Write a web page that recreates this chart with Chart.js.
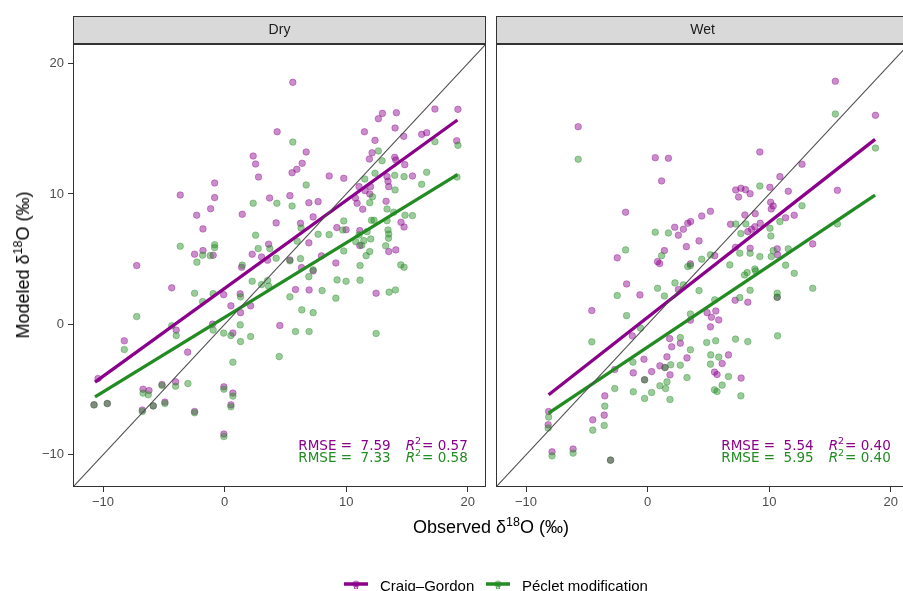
<!DOCTYPE html>
<html>
<head>
<meta charset="utf-8">
<script src="https://cdn.jsdelivr.net/npm/chart.js@4.4.1/dist/chart.umd.min.js"></script>
<style>
  html, body { margin: 0; padding: 0; background: #fff; }
  #wrap { position: relative; width: 903px; height: 591px; overflow: hidden; font-family: "Liberation Sans", Arial, sans-serif; }
  #dryBox { position: absolute; left: 0; top: 0; }
  #wetBox { position: absolute; left: 489px; top: 0; }
  .title { position: absolute; white-space: nowrap; font-size: 18px; color: #000; line-height: 18px; }
  .title sup { font-size: 12.5px; vertical-align: baseline; position: relative; top: -0.6em; }
  #ytitle { left: 24px; top: 265px; transform: translate(-50%, -50%) rotate(-90deg); }
  #xtitle { left: 491px; top: 528px; transform: translate(-50%, -50%); }
  .key { position: absolute; top: 576px; }
  .keytext { position: absolute; top: 578px; font-size: 15px; line-height: 15px; color: #000; white-space: nowrap; }
</style>
</head>
<body>
<div id="wrap">
  <div id="dryBox"><canvas id="dry" width="489" height="591"></canvas></div>
  <div id="wetBox"><canvas id="wet" width="421" height="591"></canvas></div>
  <div class="title" id="ytitle">Modeled δ<sup>18</sup>O (‰)</div>
  <div class="title" id="xtitle">Observed δ<sup>18</sup>O (‰)</div>

  <svg class="key" style="left:344px" width="24" height="16">
    <line x1="0" y1="8" x2="24" y2="8" stroke="#8B008B" stroke-width="3.5"/>
    <circle cx="12" cy="8" r="3.6" fill="rgba(139,0,139,0.5)"/>
    <text x="12" y="13" font-size="8" text-anchor="middle" fill="#8B008B" font-family="Liberation Sans">a</text>
  </svg>
  <div class="keytext" style="left:380px">Craig–Gordon</div>
  <svg class="key" style="left:486px" width="24" height="16">
    <line x1="0" y1="8" x2="24" y2="8" stroke="#228B22" stroke-width="3.5"/>
    <circle cx="12" cy="8" r="3.6" fill="rgba(34,139,34,0.5)"/>
    <text x="12" y="13" font-size="8" text-anchor="middle" fill="#228B22" font-family="Liberation Sans">a</text>
  </svg>
  <div class="keytext" style="left:522px">Péclet modification</div>
</div>

<script>
// ---- data: [observed, modeled] ----
const dryCraigGordon = [
  [2.35,12.91],[2.55,12.30],[2.79,11.30],[-0.82,10.84],[-3.65,9.92],[-0.82,9.72],[-1.15,8.87],[-2.30,8.37],
  [1.45,8.44],[3.70,9.69],[4.24,7.78],[-1.78,7.32],[-1.78,5.66],[-2.47,5.38],[-0.94,5.30],[2.27,5.38],
  [3.62,6.15],[3.04,5.17],[3.53,4.92],[-7.23,4.51],[1.40,4.38],[-4.35,2.80],[-0.08,2.28],[1.28,2.34],
  [0.52,1.42],[2.14,1.42],[1.31,0.90],[4.54,-0.09],[-0.99,0.02],[-3.98,-0.44],[0.68,-0.67],[-8.25,-1.26],
  [-3.04,-2.13],[-10.41,-4.15],[-6.71,-4.97],[-6.22,-5.07],[-5.15,-4.61],[-4.03,-4.41],[-0.06,-4.79],[0.68,-5.27],
  [-6.77,-6.57],[-4.91,-5.96],[-2.47,-6.68],[0.52,-6.17],[-0.06,-8.41],[-5.87,-6.25],[-10.74,-6.17],[-9.65,-6.07],
  [5.61,18.56],[4.32,14.77],[6.71,13.22],[6.38,12.35],[5.94,11.89],[5.55,11.63],[8.60,11.38],[9.80,11.20],
  [5.37,9.87],[6.93,9.33],[7.69,9.41],[7.28,8.24],[6.24,7.75],[6.93,6.25],[9.23,7.42],[9.99,7.26],
  [7.97,5.25],[11.50,14.77],[12.37,14.11],[12.65,15.77],[12.98,16.18],[14.13,16.23],[14.02,15.06],[14.73,14.42],
  [16.21,14.57],[16.62,14.70],[17.30,16.51],[19.19,16.49],[19.09,14.08],[12.13,13.16],[11.91,12.68],[13.99,12.81],
  [14.08,12.61],[14.82,12.25],[15.45,11.38],[13.36,11.33],[13.44,10.97],[13.50,10.56],[11.06,10.56],[12.00,10.56],
  [11.55,10.25],[11.94,10.00],[10.76,9.69],[10.90,9.29],[13.28,9.44],[11.36,8.83],[14.51,7.83],[14.76,7.47],
  [11.12,7.19],[14.08,5.71],[13.50,5.58],[6.33,4.35],[7.28,4.10],[9.15,4.71],[5.83,2.67],[6.95,2.64],
  [12.46,2.39],[11.12,6.04],[5.37,4.94]
];
const dryPeclet = [
  [2.35,9.29],[4.30,9.29],[2.55,6.84],[-3.65,5.99],[-0.82,6.11],[-0.82,5.89],[-1.81,5.30],[-1.18,5.27],
  [-2.28,4.77],[2.76,5.81],[3.72,5.81],[4.24,5.07],[1.45,4.54],[2.27,3.31],[3.04,3.05],[3.53,3.36],
  [3.62,2.93],[-2.47,2.39],[-0.94,2.36],[-1.81,1.75],[1.31,2.11],[-7.23,0.60],[1.28,-0.04],[-0.94,-0.44],
  [-0.08,-0.67],[0.52,-0.86],[-4.35,-0.11],[-3.98,-0.86],[1.31,-1.32],[2.14,-0.93],[4.49,-2.47],[-8.25,-1.93],
  [0.68,-2.90],[-3.02,-4.54],[-4.03,-4.74],[-5.15,-4.69],[-6.71,-5.27],[-6.28,-5.40],[-0.06,-4.97],[0.68,-5.50],
  [-10.74,-6.17],[-9.65,-6.07],[-6.77,-6.68],[-5.87,-6.25],[-4.91,-6.07],[-2.47,-6.78],[0.52,-6.32],[-0.06,-8.60],
  [5.61,13.98],[6.71,10.69],[5.55,9.08],[12.65,13.30],[12.95,12.55],[12.37,11.59],[11.53,11.15],[13.99,11.43],
  [14.76,11.33],[16.62,11.66],[16.21,10.74],[17.30,14.01],[19.19,13.73],[19.11,11.30],[14.02,10.31],[12.16,9.79],
  [11.94,9.33],[13.36,8.85],[13.91,8.60],[14.84,8.37],[15.45,8.34],[12.08,7.98],[12.29,7.98],[13.36,7.95],
  [13.44,7.24],[13.50,6.93],[13.48,6.61],[9.80,7.93],[6.29,7.39],[7.69,6.91],[8.60,6.88],[9.72,7.24],
  [11.06,6.86],[11.72,7.11],[10.79,6.34],[11.45,6.42],[12.02,6.55],[11.28,6.07],[13.25,6.02],[5.97,6.38],
  [6.24,5.04],[9.80,5.63],[11.64,5.27],[11.94,5.58],[14.49,4.56],[14.76,4.38],[11.14,4.51],[9.25,3.41],
  [9.99,3.31],[11.14,3.39],[8.02,2.59],[9.15,2.01],[6.93,3.66],[5.37,4.87],[7.28,4.18],[5.37,2.11],
  [6.35,1.11],[7.28,0.90],[5.83,-0.55],[6.95,-0.55],[12.46,-0.70],[13.53,2.47],[14.05,2.64]
];
const wetCraigGordon = [
  [-5.71,15.16],[0.63,12.78],[1.71,12.74],[1.15,11.00],[-1.81,8.60],[-2.50,5.10],[-1.73,3.10],[-0.63,2.26],
  [-4.59,1.06],[2.23,7.45],[2.94,7.29],[3.30,7.75],[3.54,7.88],[2.53,6.84],[3.19,5.96],[1.38,5.66],
  [0.82,4.81],[0.99,4.66],[3.52,4.64],[-1.26,-0.88],[3.52,0.32],[1.81,-1.09],[1.98,-1.72],[2.69,-1.44],
  [1.59,-2.49],[3.24,-2.57],[-0.30,-2.67],[1.01,-3.18],[1.84,-3.87],[0.33,-3.62],[-1.18,-3.72],[-2.70,-3.46],
  [-3.52,-5.48],[-3.57,-6.96],[-4.51,-7.32],[-8.14,-6.68],[-8.18,-7.70],[-7.86,-9.77],[-6.13,-9.56],[-3.05,-10.41],
  [-0.25,-4.25],[1.43,-3.31],[2.53,2.67],
  [15.44,18.64],[18.74,16.03],[9.23,13.22],[12.70,12.28],[10.88,11.33],[7.25,10.31],[7.67,10.44],[8.05,10.33],
  [8.43,10.02],[7.48,9.77],[10.06,10.51],[11.57,10.21],[15.61,10.28],[10.12,9.36],[10.33,9.08],[10.17,8.85],
  [8.85,8.49],[8.00,8.39],[12.06,8.37],[11.35,8.18],[5.17,8.67],[4.45,8.31],[6.82,7.68],[9.26,7.75],
  [8.82,7.49],[8.55,7.29],[8.24,7.11],[4.23,6.40],[13.58,6.17],[8.43,5.84],[10.66,5.79],[7.23,5.91],
  [5.52,5.27],[10.69,5.33],[7.20,1.85],[8.24,1.70],[5.61,1.03],[4.89,0.90],[5.25,0.55],[5.85,0.34],
  [5.17,-0.19],[6.65,-2.34],[6.13,-3.00],[5.50,-3.66],[5.71,-3.85],[7.69,-4.12],[10.66,2.08]
];
const wetPeclet = [
  [-5.71,12.66],[0.63,7.07],[1.71,7.01],[-1.81,5.71],[1.15,5.27],[-2.50,2.21],[-1.73,0.67],[-4.59,-1.34],
  [0.82,2.77],[1.38,2.18],[2.25,3.18],[2.94,3.03],[3.30,4.43],[3.52,4.51],[3.52,0.80],[-0.58,-0.29],
  [2.69,-1.01],[3.52,-1.95],[2.69,-3.13],[1.90,-3.10],[1.59,-4.41],[3.24,-4.08],[1.01,-4.71],[1.48,-4.92],
  [0.33,-5.22],[-0.25,-5.68],[-1.18,-5.17],[-2.70,-4.92],[-1.21,-2.90],[1.84,-5.76],[-3.52,-6.27],[-3.57,-7.75],
  [-4.51,-8.11],[-8.14,-7.11],[-8.18,-7.95],[-7.86,-10.08],[-6.13,-9.87],[-3.05,-10.41],[-0.25,-4.25],[1.43,-3.31],
  [15.44,16.13],[18.74,13.52],[9.23,10.61],[12.70,9.10],[10.88,7.88],[15.61,7.70],[7.25,7.70],[8.08,7.70],
  [10.06,7.37],[10.14,6.78],[7.67,6.96],[5.17,5.33],[4.45,5.00],[8.43,5.46],[7.58,5.46],[10.33,5.66],
  [10.17,5.20],[9.23,5.20],[11.57,5.79],[6.76,4.56],[11.35,4.54],[12.06,3.92],[7.97,3.79],[8.19,3.97],
  [8.82,4.25],[8.88,4.10],[13.58,2.77],[8.43,2.62],[10.66,2.39],[10.66,2.08],[4.23,2.59],[5.52,1.88],
  [7.58,2.05],[10.69,-0.88],[7.23,-1.13],[8.24,-1.32],[4.86,-1.39],[5.60,-1.26],[5.19,-2.34],[5.85,-2.51],
  [5.17,-3.05],[6.65,-4.00],[6.13,-4.66],[5.50,-5.02],[5.71,-5.15],[7.67,-5.48]
];

// fitted lines (ends of the fit over the observed range)
const dryFitX = [-10.66, 19.15];
const dryFitCG = [-4.43, 15.67];
const dryFitPM = [-5.56, 11.48];
const wetFitX = [-8.14, 18.71];
const wetFitCG = [-5.40, 14.19];
const wetFitPM = [-6.81, 9.92];

// goodness of fit: [Craig-Gordon, Peclet]
const dryRmse = [7.59, 7.33];
const dryR2 = [0.57, 0.58];
const wetRmse = [5.54, 5.95];
const wetR2 = [0.40, 0.40];

const axisTicks = [-10, 0, 10, 20];
const AX_MIN = -12.47;
const AX_MAX = 21.5;

// ---- styling ----
const PURPLE = '#8B008B';
const GREEN = '#228B22';
const PURPLE_PT = 'rgba(139,0,139,0.45)';
const GREEN_PT = 'rgba(34,139,34,0.45)';

const toPoints = arr => arr.map(([x, y]) => ({ x, y }));
const fitLine = (xs, ys) => xs.map((x, i) => ({ x, y: ys[i] }));
const fmtTick = v => (v < 0 ? '\u2212' + Math.abs(v) : String(v));

// strip on top + panel border
const facetFrame = {
  id: 'facetFrame',
  afterDraw(chart, args, opts) {
    const { ctx, chartArea: a } = chart;
    ctx.save();
    ctx.fillStyle = '#D9D9D9';
    ctx.fillRect(a.left, a.top - 28, a.right - a.left, 28);
    ctx.strokeStyle = '#333333';
    ctx.lineWidth = 1;
    ctx.strokeRect(a.left + 0.5, a.top - 27.5, a.right - a.left - 1, 27);
    ctx.strokeRect(a.left + 0.5, a.top + 0.5, a.right - a.left - 1, a.bottom - a.top - 1);
    ctx.fillStyle = '#1A1A1A';
    ctx.font = '14px "Liberation Sans", Arial, sans-serif';
    ctx.textAlign = 'center';
    ctx.textBaseline = 'middle';
    ctx.fillText(opts.label, (a.left + a.right) / 2, a.top - 14);
    ctx.restore();
  }
};

// RMSE / R^2 lines, right-aligned at anchorX
const fitStats = {
  id: 'fitStats',
  afterDatasetsDraw(chart, args, opts) {
    const { ctx, scales: { x, y } } = chart;
    const right = x.getPixelForValue(opts.anchorX);
    const fam = '"DejaVu Sans", Verdana, sans-serif';
    opts.rmse.forEach((rmse, i) => {
      const base = y.getPixelForValue(opts.anchorY[i]);
      ctx.save();
      ctx.fillStyle = opts.colors[i];
      ctx.textAlign = 'right';
      ctx.textBaseline = 'alphabetic';
      ctx.font = '13.5px ' + fam;
      const val = '= ' + opts.r2[i].toFixed(2);
      ctx.fillText(val, right, base);
      let cx = right - ctx.measureText(val).width - 1;
      ctx.font = '9.5px ' + fam;
      ctx.fillText('2', cx, base - 6);
      cx -= ctx.measureText('2').width;
      ctx.font = 'italic 13.5px ' + fam;
      ctx.fillText('R', cx, base);
      cx -= ctx.measureText('R').width + 15;
      ctx.font = '13.5px ' + fam;
      ctx.fillText('RMSE =  ' + rmse.toFixed(2), cx, base);
      ctx.restore();
    });
  }
};

function xScale() {
  return {
    type: 'linear', min: AX_MIN, max: AX_MAX,
    afterBuildTicks: s => { s.ticks = axisTicks.map(v => ({ value: v })); },
    afterFit: s => { s.height = 22; },
    grid: { display: true, drawOnChartArea: false, drawTicks: true, tickLength: 5, tickColor: '#333333', tickWidth: 1 },
    border: { display: false },
    ticks: { color: '#4D4D4D', font: { family: 'Liberation Sans', size: 13 }, padding: 3, maxRotation: 0, autoSkip: false, callback: fmtTick }
  };
}

function yScale(show) {
  return {
    type: 'linear', min: AX_MIN, max: AX_MAX, display: show,
    afterBuildTicks: s => { s.ticks = axisTicks.map(v => ({ value: v })); },
    afterFit: s => { if (show) s.width = 73; },
    grid: { display: true, drawOnChartArea: false, drawTicks: true, tickLength: 5, tickColor: '#333333', tickWidth: 1 },
    border: { display: false },
    ticks: { color: '#4D4D4D', font: { family: 'Liberation Sans', size: 13 }, padding: 4, autoSkip: false, callback: fmtTick }
  };
}

function buildPanel(canvasId, label, cg, pm, fitX, fitCG, fitPM, rmse, r2, showY, padLeft, padRight) {
  const datasets = [
    { data: fitLine([AX_MIN, AX_MAX], [AX_MIN, AX_MAX]), showLine: true, pointRadius: 0, borderColor: '#4D4D4D', borderWidth: 1.1, order: 0 },
    { data: fitLine(fitX, fitCG), showLine: true, pointRadius: 0, borderColor: PURPLE, borderWidth: 3.3, order: 1 },
    { data: fitLine(fitX, fitPM), showLine: true, pointRadius: 0, borderColor: GREEN, borderWidth: 3.3, order: 1 },
    { data: toPoints(pm), pointRadius: 3.3, pointBackgroundColor: GREEN_PT, pointBorderColor: GREEN_PT, pointBorderWidth: 0.8, order: 2 },
    { data: toPoints(cg), pointRadius: 3.3, pointBackgroundColor: PURPLE_PT, pointBorderColor: PURPLE_PT, pointBorderWidth: 0.8, order: 3 }
  ];
  return new Chart(document.getElementById(canvasId), {
    type: 'scatter',
    data: { datasets },
    plugins: [facetFrame, fitStats],
    options: {
      responsive: false,
      animation: false,
      devicePixelRatio: 1,
      layout: { autoPadding: false, padding: { top: 44, right: padRight, bottom: 82, left: padLeft } },
      scales: { x: xScale(), y: yScale(showY) },
      plugins: {
        legend: { display: false },
        tooltip: { enabled: false },
        facetFrame: { label },
        fitStats: { anchorX: 20, anchorY: [-9.62, -10.59], rmse, r2, colors: [PURPLE, GREEN] }
      }
    }
  });
}

buildPanel('dry', 'Dry', dryCraigGordon, dryPeclet, dryFitX, dryFitCG, dryFitPM, dryRmse, dryR2, true, 0, 3);
buildPanel('wet', 'Wet', wetCraigGordon, wetPeclet, wetFitX, wetFitCG, wetFitPM, wetRmse, wetR2, false, 7, 1);
</script>
</body>
</html>
